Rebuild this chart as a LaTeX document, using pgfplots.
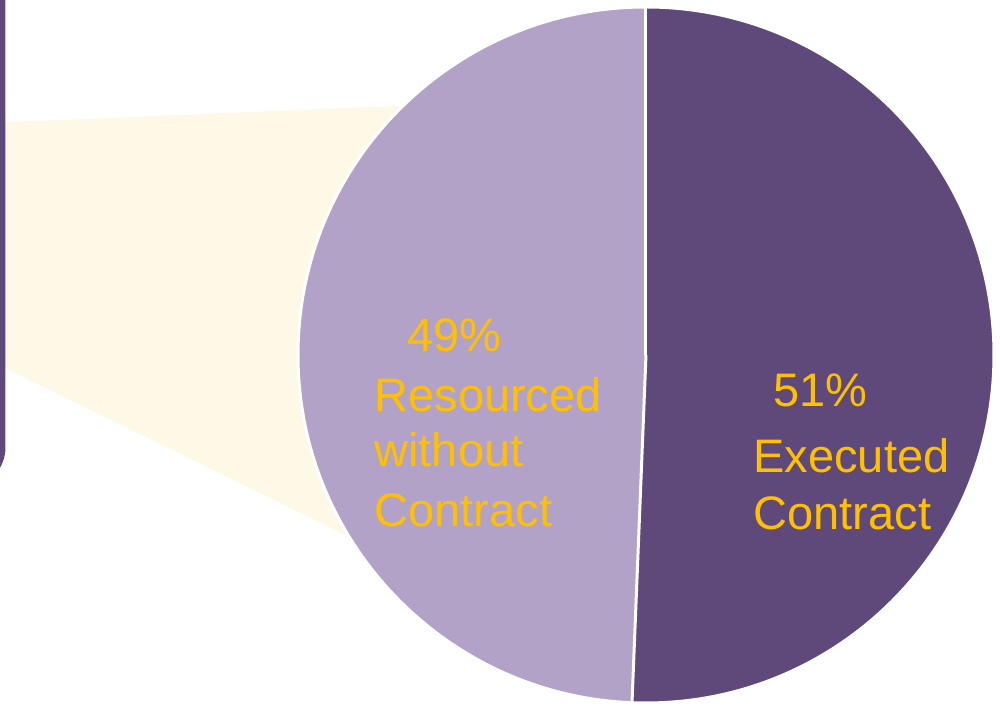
\documentclass[border=0pt]{standalone}
\usepackage{pgfplots}
\usepackage{pgfplotstable}
\pgfplotsset{compat=1.18}
\usepackage{fontspec}
\setmainfont{Liberation Sans}
\definecolor{darkpurple}{HTML}{5F497A}
\definecolor{lightpurple}{HTML}{B3A2C7}
\definecolor{gold}{HTML}{FFC000}
\definecolor{paleyellow}{HTML}{FEF9E6}

\pgfplotstableread{
label value
Executed 50.64
Resourced 49.36
}\piedata

\begin{document}
\begin{tikzpicture}
\pgfplotstablegetelem{0}{value}\of\piedata
\pgfmathsetmacro{\ea}{90-3.6*\pgfplotsretval}
\useasboundingbox (0,0) rectangle (400pt,282.8pt);
\clip (0,0) rectangle (400pt,282.8pt);
\begin{axis}[at={(0,0)}, anchor=south west, scale only axis,
  width=400pt, height=282.8pt, xmin=0, xmax=1000, ymin=0, ymax=707,
  hide axis, clip=false]
  % connector
  \fill[paleyellow] (axis cs:3,584.7) -- (axis cs:500,605.4) -- (axis cs:500,96) -- (axis cs:3,340) -- cycle;
  % left rounded box edge
  \fill[darkpurple, rounded corners=17pt] (axis cs:-60,760) -- (axis cs:5.5,760) -- (axis cs:5.5,217.5) -- (axis cs:-60,217.5) -- cycle;
  % pie slices
  \fill[darkpurple] (axis cs:646,352) -- ++(90:139.2pt) arc[start angle=90, end angle=\ea, radius=139.2pt] -- cycle;
  \fill[lightpurple] (axis cs:646,352) -- ++(\ea:139.2pt) arc[start angle=\ea, end angle=-270, radius=139.2pt] -- cycle;
  \draw[white, line width=1.2pt] (axis cs:646,352) -- ++(90:139.2pt);
  \draw[white, line width=1.2pt] (axis cs:646,352) -- ++(\ea:139.2pt);
  \draw[white, line width=1.2pt] (axis cs:646,352) circle[radius=139.2pt];
  % labels
  \begin{scope}[every node/.style={anchor=base west, inner sep=0pt, text=gold, font=\fontsize{18.8}{22}\selectfont}]
  \node at (axis cs:406.7,355.3) {49\%};
  \node at (axis cs:374,295.3) {Resourced};
  \node at (axis cs:374,240.3) {without};
  \node at (axis cs:374,180.3) {Contract};
  \node at (axis cs:773,300.3) {51\%};
  \node at (axis cs:753,234) {Executed};
  \node at (axis cs:753,177) {Contract};
  \end{scope}
\end{axis}
\end{tikzpicture}
\end{document}
